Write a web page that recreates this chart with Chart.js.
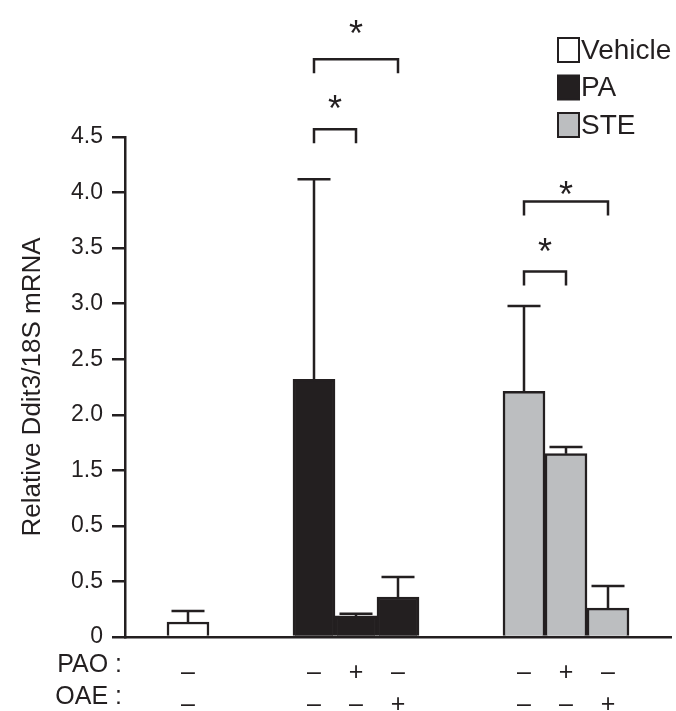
<!DOCTYPE html>
<html>
<head>
<meta charset="utf-8">
<script src="https://cdn.jsdelivr.net/npm/chart.js@4.4.1/dist/chart.umd.min.js"></script>
<style>
  html, body { margin: 0; padding: 0; background: #ffffff; }
  #chart { display: block; }
</style>
</head>
<body>
<canvas id="chart" width="676" height="711"></canvas>
<script>
// Ddit3 expression per condition
const groups = ["Vehicle", "PA", "STE"];
const treatment = ["Vehicle", "PA", "PA", "PA", "STE", "STE", "STE"];
const paoRow = ["\u2013", "\u2013", "+", "\u2013", "\u2013", "+", "\u2013"];
const oaeRow = ["\u2013", "\u2013", "\u2013", "+", "\u2013", "\u2013", "+"];
const means = [0.135, 2.32, 0.19, 0.36, 2.21, 1.65, 0.26];
const sems = [0.10, 1.80, 0.02, 0.18, 0.77, 0.06, 0.20];
const yTickLabels = ["0", "0.5", "0.5", "1.5", "2.0", "2.5", "3.0", "3.5", "4.0", "4.5"];

// significance marks: pairs of conditions, bracket level and star level (y units)
const sigPairs = [[1, 2], [1, 3], [4, 5], [4, 6]];
const sigBracket = [4.57, 5.20, 3.29, 3.92];
const sigStar = [4.83, 5.51, 3.55, 4.06];

const INK = "#231f20";
const fills = { Vehicle: "#ffffff", PA: INK, STE: "#bcbec0" };
const FONT = "'Liberation Sans', Arial, sans-serif";
Chart.defaults.font.family = FONT;
Chart.defaults.color = INK;

// category slots with empty spacers between the treatment groups
const slots = [null];
treatment.forEach((t, i) => {
  if (i > 0 && t !== treatment[i - 1]) slots.push(null, null);
  slots.push(i);
});
slots.push(null);
const slotOf = (cond) => slots.indexOf(cond);

const labels = slots.map((i) => (i === null ? ["", ""] : [paoRow[i], oaeRow[i]]));

const datasets = groups.map((g) => ({
  label: g,
  data: slots.map((i) => (i !== null && treatment[i] === g ? means[i] : null)),
  backgroundColor: fills[g],
  borderColor: INK,
  borderWidth: 2.5,
  grouped: false,
  categoryPercentage: 1,
  barPercentage: 1,
}));

// upper error bars
const errorBars = {
  id: "errorBars",
  afterDatasetsDraw(chart) {
    const ctx = chart.ctx;
    const y = chart.scales.y;
    ctx.save();
    ctx.strokeStyle = INK;
    ctx.lineWidth = 2.5;
    chart.data.datasets.forEach((ds, d) => {
      const meta = chart.getDatasetMeta(d);
      meta.data.forEach((bar, j) => {
        const i = slots[j];
        if (i === null || treatment[i] !== ds.label) return;
        const top = y.getPixelForValue(means[i] + sems[i]);
        const half = 16.5;
        ctx.beginPath();
        ctx.moveTo(bar.x, bar.y);
        ctx.lineTo(bar.x, top);
        ctx.moveTo(bar.x - half, top);
        ctx.lineTo(bar.x + half, top);
        ctx.stroke();
      });
    });
    ctx.restore();
  },
};

// brackets with asterisks
const sigMarks = {
  id: "sigMarks",
  afterDraw(chart) {
    const ctx = chart.ctx;
    const x = chart.scales.x;
    const y = chart.scales.y;
    ctx.save();
    ctx.strokeStyle = INK;
    ctx.fillStyle = INK;
    ctx.lineWidth = 2.5;
    ctx.font = "36px " + FONT;
    ctx.textAlign = "center";
    ctx.textBaseline = "alphabetic";
    sigPairs.forEach(([a, b], k) => {
      const x1 = x.getPixelForValue(slotOf(a));
      const x2 = x.getPixelForValue(slotOf(b));
      const yb = y.getPixelForValue(sigBracket[k]);
      ctx.beginPath();
      ctx.moveTo(x1, yb + 14);
      ctx.lineTo(x1, yb);
      ctx.lineTo(x2, yb);
      ctx.lineTo(x2, yb + 14);
      ctx.stroke();
      ctx.fillText("*", (x1 + x2) / 2, y.getPixelForValue(sigStar[k]) + 21);
    });
    ctx.restore();
  },
};

// legend boxes in the top right corner and the row titles under the axis
const sideText = {
  id: "sideText",
  afterDraw(chart) {
    const ctx = chart.ctx;
    ctx.save();
    ctx.lineWidth = 2;
    ctx.strokeStyle = INK;
    ctx.fillStyle = INK;
    ctx.font = "28px " + FONT;
    ctx.textBaseline = "middle";
    ctx.textAlign = "left";
    chart.data.datasets.forEach((ds, k) => {
      const cy = 50 + k * 37.5;
      ctx.fillStyle = ds.backgroundColor;
      ctx.fillRect(558, cy - 12, 21, 24);
      ctx.strokeRect(558, cy - 12, 21, 24);
      ctx.fillStyle = INK;
      ctx.fillText(ds.label, 581, cy + 1);
    });
    const x = chart.scales.x;
    ctx.font = "25px " + FONT;
    ctx.textAlign = "right";
    ctx.fillText("PAO :", 122, x.top + 12 + 16);
    ctx.fillText("OAE :", 122, x.top + 12 + 48);
    ctx.restore();
  },
};

new Chart(document.getElementById("chart"), {
  type: "bar",
  data: { labels: labels, datasets: datasets },
  options: {
    responsive: false,
    animation: false,
    events: [],
    layout: { padding: { top: 137, right: 5, left: 0, bottom: 0 } },
    plugins: {
      legend: { display: false },
      tooltip: { enabled: false },
    },
    scales: {
      x: {
        type: "category",
        offset: true,
        grid: { display: false },
        border: { display: true, color: INK, width: 2.5 },
        ticks: {
          autoSkip: false,
          maxRotation: 0,
          padding: 12,
          color: INK,
          font: { size: 25, lineHeight: 1.28 },
        },
        afterFit: (scale) => {
          scale.height = 74;
        },
      },
      y: {
        min: 0,
        max: 4.5,
        border: { display: true, color: INK, width: 2.5 },
        grid: {
          drawOnChartArea: false,
          drawTicks: true,
          tickLength: 13,
          color: INK,
          lineWidth: 2.5,
        },
        ticks: {
          stepSize: 0.5,
          padding: 9,
          color: INK,
          font: { size: 23 },
          callback: (value, index) => yTickLabels[index],
        },
        title: {
          display: true,
          text: "Relative Ddit3/18S mRNA",
          color: INK,
          font: { size: 26 },
          padding: { top: 17, bottom: 0 },
        },
        afterFit: (scale) => {
          scale.width = 125;
        },
      },
    },
  },
  plugins: [errorBars, sigMarks, sideText],
});
</script>
</body>
</html>
